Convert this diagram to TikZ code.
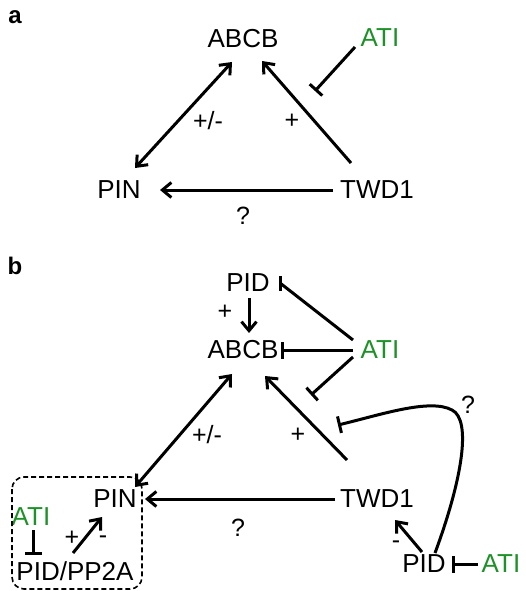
\documentclass[tikz,border=0pt]{standalone}
\usepackage{fontspec}
\setmainfont{Liberation Sans}
\usetikzlibrary{arrows.meta,calc}
\definecolor{atigreen}{RGB}{30,145,40}
\tikzset{
  lbl/.style={inner sep=0pt, font=\fontsize{26}{30}\selectfont},
  sym/.style={inner sep=0pt, font=\fontsize{25}{30}\selectfont},
  ati/.style={lbl, text=atigreen},
  panel/.style={inner sep=0pt, font=\fontsize{24}{28}\selectfont\bfseries},
  ln/.style={line width=3pt, line cap=butt},
  act/.style={ln, -{Straight Barb[length=9pt,width=15pt,line width=3pt]}},
  dbl/.style={ln, {Straight Barb[length=9pt,width=15pt,line width=3pt]}-{Straight Barb[length=9pt,width=15pt,line width=3pt]}},
  inh/.style={ln, -{Bar[width=17pt,line width=3pt]}},
}
\begin{document}
\begin{tikzpicture}[x=1pt,y=-1pt]
\useasboundingbox (0,0) rectangle (525,591);
% panel a
\node[panel] (la) at (15,17) {a};
\node[lbl] (ABCBa) at (243,39) {ABCB};
\node[ati] (ATIa) at (380,38) {ATI};
\node[lbl] (PINa) at (119,190) {PIN};
\node[lbl] (TWDa) at (377,190) {TWD1};
\draw[dbl] ($(PINa)+(16,-22)$) -- ($(ABCBa)+(-11,23)$);
\draw[act] ($(TWDa)+(-26,-27)$) -- ($(ABCBa)+(19,22)$);
\draw[inh] ($(ATIa)+(-25,9)$) -- ($(ATIa)+(-65,53)$);
\draw[act] ($(TWDa)+(-44,0)$) -- ($(PINa)+(41,0)$);
\node[sym] (pma) at (208,121) {+/-};
\node[sym] (pa) at (292,121) {+};
\node[sym] (qa) at (243,216) {?};
% panel b
\node[panel] (lb) at (15,266) {b};
\node[lbl] (PIDt) at (248,283) {PID};
\node[lbl] (ABCBb) at (243,350) {ABCB};
\node[ati] (ATIb) at (380,350) {ATI};
\node[lbl] (PINb) at (115,499) {PIN};
\node[lbl] (TWDb) at (377,499) {TWD1};
\node[lbl] (PIDr) at (424,564) {PID};
\node[ati] (ATIr) at (501,564) {ATI};
\node[ati] (ATIbox) at (31,517) {ATI};
\node[lbl] (PP2A) at (75,571) {PID/PP2A};
% PID top inhibited by ATI
\draw[ln] ($(ATIb)+(-27,-10)$) -- ($(PIDt)+(32,0)$);
\draw[ln] ($(PIDt)+(32,-7)$) -- ($(PIDt)+(32,8)$);
% ABCB inhibited by ATI
\draw[inh] ($(ATIb)+(-27,0)$) -- ($(ABCBb)+(38,0)$);
% ATI inhibits TWD1->ABCB
\draw[inh] ($(ATIb)+(-27,7)$) -- ($(ATIb)+(-69,45)$);
% PID -> ABCB
\draw[act] ($(PIDt)+(1,15)$) -- ($(ABCBb)+(6,-17)$);
\node[sym] (pt) at (225,312) {+};
% triangle
\draw[dbl] ($(PINb)+(20,-12)$) -- ($(ABCBb)+(-11,24)$);
\draw[act] ($(TWDb)+(-30,-39)$) -- ($(ABCBb)+(22,26)$);
\draw[act] ($(TWDb)+(-42,0)$) -- ($(PINb)+(30,0)$);
\node[sym] (pmb) at (207,435) {+/-};
\node[sym] (pb) at (298,435) {+};
\node[sym] (qb) at (238,528) {?};
% PID right curve
\draw[inh] ($(PIDr)+(11,-11)$) .. controls (462,480) and (472,420) .. (452,410) .. controls (430,398) and (380,415) .. (338,425);
\node[sym] (qc) at (468,405) {?};
\draw[act] ($(PIDr)+(-2,-12)$) -- ($(TWDb)+(18,21)$);
\node[sym] (mr) at (396,545) {-};
\draw[inh] ($(ATIr)+(-23,0)$) -- ($(PIDr)+(28,0)$);
% dashed box
\draw[line width=1.6pt, dash pattern=on 5pt off 3pt, rounded corners=12pt] (12,477) rectangle (142,589);
\draw[inh] ($(ATIbox)+(2,13)$) -- ($(ATIbox)+(2,38)$);
\draw[act] ($(PP2A)+(-2,-18)$) -- ($(PINb)+(-13,18)$);
\node[sym] (pbx) at (72,538) {+};
\node[sym] (mbx) at (103,540) {-};
\end{tikzpicture}
\end{document}
